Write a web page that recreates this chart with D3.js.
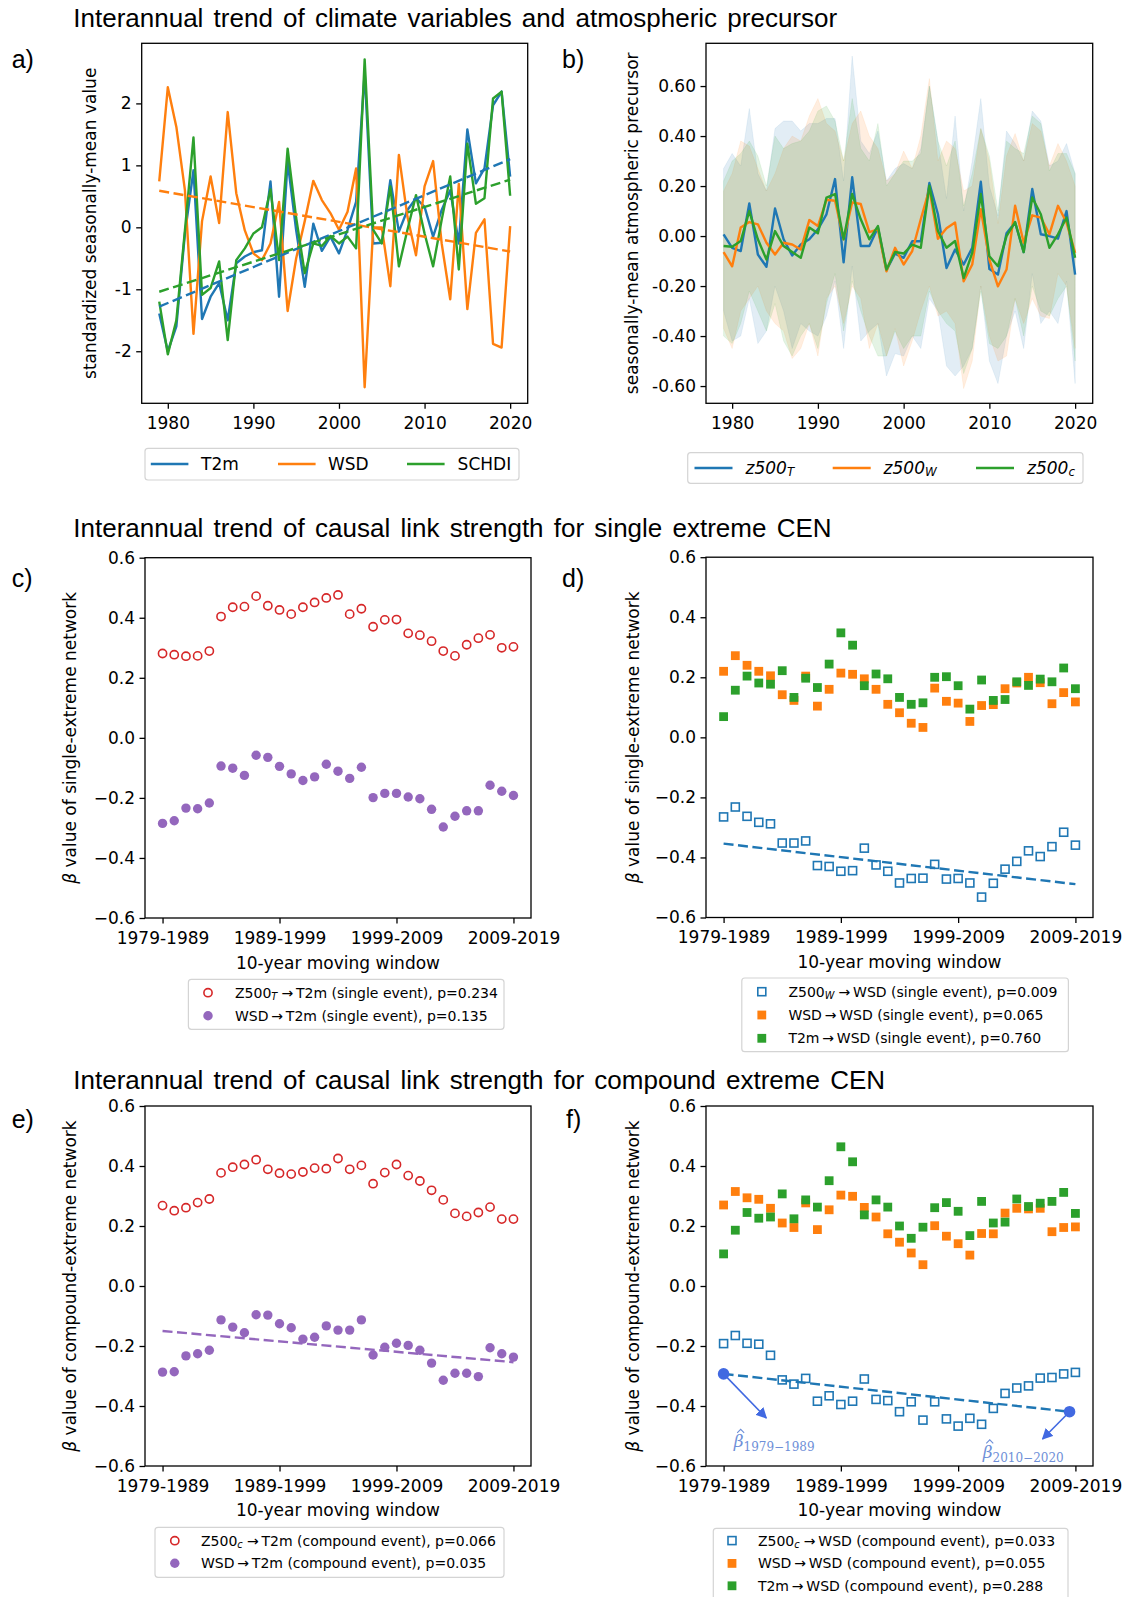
<!DOCTYPE html>
<html><head><meta charset="utf-8">
<script src="https://cdn.jsdelivr.net/npm/d3@7"></script>
<style>body{margin:0;background:#fff}svg{display:block}</style>
</head><body>
<svg id="fig" width="1127" height="1597"></svg>
<script>
// ---------------- DATA ----------------
const years = [1979,1980,1981,1982,1983,1984,1985,1986,1987,1988,1989,1990,1991,1992,1993,1994,1995,1996,1997,1998,1999,2000,2001,2002,2003,2004,2005,2006,2007,2008,2009,2010,2011,2012,2013,2014,2015,2016,2017,2018,2019,2020];
const yearTicks = [1980,1990,2000,2010,2020];

// panel a
const t2m   = [-1.39,-2.0,-1.6,-0.1,0.92,-1.48,-1.12,-0.9,-1.5,-0.58,-0.47,-0.4,-0.37,0.74,-1.12,1.06,-0.05,-0.96,0.06,-0.38,-0.15,-0.42,-0.04,0.41,2.5,-0.26,-0.25,0.76,-0.07,0.28,0.47,0.33,-0.15,0.28,0.6,-0.26,1.58,0.71,0.95,1.97,2.19,0.82];
const wsd   = [0.74,2.26,1.62,0.6,-1.72,0.1,0.82,0.07,1.86,0.55,-0.05,-0.42,-0.53,-0.26,0.41,-1.35,-0.5,0.1,0.75,0.44,0.23,-0.04,0.25,0.95,-2.58,0.0,0.0,-0.95,1.17,0.17,-0.45,0.66,1.07,-0.26,-1.16,0.7,-1.32,-0.09,0.13,-1.88,-1.94,0.02];
const schdi = [-1.2,-2.05,-1.5,-0.05,1.45,-1.09,-0.98,-0.55,-1.82,-0.53,-0.34,-0.1,0.0,0.61,-0.53,1.27,0.15,-0.74,-0.26,-0.3,-0.14,-0.26,-0.15,-0.34,2.71,-0.04,-0.26,0.66,-0.63,-0.04,0.52,-0.1,-0.63,0.12,0.82,-0.68,1.35,0.38,0.47,2.08,2.19,0.51];
const trendYears = [1979, 2020];
const t2mTrend   = [-1.28, 1.10];
const wsdTrend   = [0.59, -0.39];
const schdiTrend = [-1.04, 0.77];
const aTicks = [-2,-1,0,1,2];

// panel b
const z500T = [0.007,-0.047,-0.06,0.13,-0.074,-0.123,0.11,-0.013,-0.078,-0.034,-0.013,0.027,0.087,0.228,-0.105,0.235,-0.04,-0.04,0.034,-0.137,-0.07,-0.087,-0.021,-0.021,0.212,0.087,-0.128,-0.054,-0.114,-0.047,0.217,-0.132,-0.154,0.011,0.054,-0.064,0.188,0.007,0.0,-0.01,0.1,-0.154];
const z500W = [-0.064,-0.121,0.034,0.056,0.047,-0.027,-0.074,-0.027,-0.034,-0.054,0.064,0.04,0.145,0.141,-0.013,0.134,0.128,0.016,0.027,-0.141,-0.047,-0.114,-0.06,0.067,0.188,-0.011,0.031,0.054,-0.181,-0.114,0.107,-0.094,-0.201,-0.134,0.121,-0.027,0.083,0.074,0.007,0.121,0.054,-0.067];
const z500C = [-0.04,-0.043,-0.02,0.1,-0.013,-0.094,0.02,-0.04,-0.064,-0.087,0.034,0.011,0.154,0.168,-0.013,0.168,0.067,-0.013,0.04,-0.134,-0.064,-0.07,-0.034,-0.047,0.201,0.02,-0.047,-0.02,-0.168,-0.067,0.168,-0.081,-0.121,0.0,0.056,-0.064,0.154,0.087,-0.047,0.007,0.074,-0.087];
const z500TUpper = [0.27,0.33,0.28,0.51,0.25,0.18,0.43,0.46,0.46,0.42,0.45,0.45,0.47,0.47,0.22,0.72,0.38,0.33,0.42,0.22,0.27,0.29,0.27,0.35,0.6,0.38,0.15,0.48,0.1,0.3,0.55,0.2,0.08,0.42,0.37,0.3,0.5,0.46,0.28,0.3,0.37,0.25];
const z500TLower = [-0.3,-0.42,-0.4,-0.25,-0.43,-0.38,-0.2,-0.3,-0.45,-0.35,-0.38,-0.4,-0.32,-0.18,-0.45,-0.12,-0.42,-0.38,-0.35,-0.56,-0.47,-0.48,-0.4,-0.45,-0.25,-0.3,-0.52,-0.56,-0.52,-0.45,-0.2,-0.5,-0.59,-0.4,-0.3,-0.45,-0.15,-0.35,-0.3,-0.35,-0.18,-0.59];
const z500WUpper = [0.18,0.25,0.38,0.36,0.27,0.18,0.25,0.35,0.4,0.38,0.48,0.55,0.45,0.42,0.3,0.45,0.5,0.4,0.35,0.22,0.25,0.34,0.27,0.4,0.63,0.3,0.38,0.35,0.18,0.2,0.43,0.3,0.05,0.32,0.41,0.3,0.45,0.42,0.28,0.37,0.3,0.2];
const z500WLower = [-0.37,-0.45,-0.3,-0.25,-0.2,-0.3,-0.35,-0.38,-0.49,-0.45,-0.35,-0.48,-0.25,-0.2,-0.35,-0.2,-0.25,-0.45,-0.35,-0.48,-0.37,-0.52,-0.42,-0.3,-0.2,-0.32,-0.3,-0.35,-0.61,-0.5,-0.2,-0.4,-0.5,-0.48,-0.25,-0.35,-0.25,-0.32,-0.33,-0.15,-0.2,-0.45];
const z500CUpper = [0.22,0.3,0.33,0.38,0.32,0.2,0.4,0.35,0.37,0.38,0.42,0.5,0.52,0.46,0.3,0.55,0.35,0.3,0.45,0.2,0.25,0.3,0.3,0.33,0.6,0.38,0.28,0.38,0.12,0.25,0.43,0.32,0.1,0.38,0.35,0.33,0.48,0.45,0.26,0.33,0.33,0.25];
const z500CLower = [-0.4,-0.43,-0.35,-0.22,-0.3,-0.38,-0.27,-0.42,-0.48,-0.4,-0.35,-0.45,-0.27,-0.15,-0.38,-0.18,-0.3,-0.4,-0.48,-0.48,-0.38,-0.45,-0.4,-0.4,-0.22,-0.3,-0.35,-0.38,-0.55,-0.45,-0.22,-0.43,-0.45,-0.4,-0.25,-0.4,-0.2,-0.3,-0.32,-0.25,-0.2,-0.5];
const bTicks = [-0.6,-0.4,-0.2,0.0,0.2,0.4,0.6];

// panels c-f : 10-year moving windows
const windows = ["1979-1989","1980-1990","1981-1991","1982-1992","1983-1993","1984-1994","1985-1995","1986-1996","1987-1997","1988-1998","1989-1999","1990-2000","1991-2001","1992-2002","1993-2003","1994-2004","1995-2005","1996-2006","1997-2007","1998-2008","1999-2009","2000-2010","2001-2011","2002-2012","2003-2013","2004-2014","2005-2015","2006-2016","2007-2017","2008-2018","2009-2019"];
const windowTicks = ["1979-1989","1989-1999","1999-2009","2009-2019"];
const betaTicks = [-0.6,-0.4,-0.2,0.0,0.2,0.4,0.6];

// c) single extreme, target T2m
const cZ500T = [0.281,0.277,0.272,0.273,0.289,0.404,0.435,0.437,0.472,0.440,0.426,0.412,0.435,0.451,0.466,0.476,0.412,0.430,0.370,0.393,0.394,0.348,0.342,0.322,0.289,0.273,0.310,0.332,0.343,0.300,0.303];
const cWSD   = [-0.285,-0.276,-0.234,-0.236,-0.217,-0.094,-0.101,-0.125,-0.058,-0.065,-0.095,-0.120,-0.142,-0.130,-0.088,-0.111,-0.135,-0.098,-0.199,-0.185,-0.185,-0.197,-0.203,-0.238,-0.297,-0.261,-0.243,-0.243,-0.158,-0.178,-0.192];

// d) single extreme, target WSD
const dZ500W = [-0.265,-0.232,-0.263,-0.283,-0.288,-0.352,-0.352,-0.345,-0.427,-0.430,-0.446,-0.444,-0.369,-0.425,-0.446,-0.485,-0.470,-0.469,-0.423,-0.472,-0.470,-0.485,-0.532,-0.486,-0.439,-0.413,-0.378,-0.397,-0.364,-0.316,-0.359];
const dWSD   = [0.220,0.272,0.240,0.220,0.205,0.142,0.123,0.204,0.104,0.160,0.214,0.210,0.195,0.160,0.110,0.082,0.047,0.033,0.164,0.120,0.114,0.053,0.106,0.109,0.162,0.181,0.200,0.182,0.112,0.149,0.118];
const dT2m   = [0.069,0.157,0.204,0.181,0.177,0.222,0.133,0.197,0.166,0.244,0.348,0.307,0.172,0.211,0.195,0.133,0.110,0.115,0.200,0.202,0.172,0.094,0.191,0.123,0.126,0.185,0.173,0.194,0.185,0.231,0.162];
const dTrend = [-0.354, -0.489];

// e) compound extreme, target T2m
const eZ500C = [0.268,0.251,0.261,0.278,0.290,0.377,0.396,0.405,0.421,0.389,0.376,0.373,0.380,0.393,0.391,0.425,0.389,0.402,0.341,0.378,0.405,0.368,0.350,0.319,0.287,0.242,0.232,0.245,0.263,0.223,0.223];
const eWSD   = [-0.287,-0.286,-0.233,-0.226,-0.214,-0.113,-0.137,-0.156,-0.096,-0.097,-0.126,-0.139,-0.177,-0.171,-0.133,-0.147,-0.147,-0.113,-0.230,-0.204,-0.191,-0.198,-0.214,-0.257,-0.314,-0.291,-0.291,-0.302,-0.206,-0.226,-0.237];
const eTrend = [-0.150, -0.254];

// f) compound extreme, target WSD
const fZ500C = [-0.192,-0.165,-0.191,-0.194,-0.231,-0.313,-0.327,-0.308,-0.384,-0.366,-0.395,-0.384,-0.310,-0.378,-0.382,-0.419,-0.386,-0.447,-0.386,-0.443,-0.467,-0.441,-0.461,-0.408,-0.358,-0.340,-0.333,-0.307,-0.305,-0.293,-0.288];
const fWSD   = [0.270,0.315,0.294,0.289,0.259,0.210,0.195,0.277,0.188,0.254,0.303,0.299,0.262,0.230,0.174,0.146,0.110,0.071,0.201,0.166,0.141,0.103,0.175,0.174,0.243,0.259,0.257,0.259,0.181,0.195,0.197];
const fT2m   = [0.107,0.186,0.245,0.226,0.230,0.307,0.224,0.287,0.263,0.351,0.464,0.414,0.237,0.287,0.263,0.200,0.159,0.196,0.261,0.278,0.249,0.168,0.282,0.210,0.213,0.290,0.265,0.276,0.282,0.312,0.242];
const fTrendIdx = [0, 29.5];
const fTrend = [-0.293, -0.419];
// annotation (index, value): arrow tips and label anchors
const fArrowTips = [[3.64,-0.440],[27.2,-0.510]];
const fLabelPos  = [[0.86,-0.538],[22.1,-0.573]];
const fLabelSub  = ["1979\u22121989","2010\u22122020"];

// ---------------- DRAWING ----------------
const C = {blue:"#1f77b4", orange:"#ff7f0e", green:"#2ca02c", red:"#d62728", purple:"#9467bd", annot:"#4169e1", annotText:"#6e8fd8"};
const svg = d3.select("#fig");
const TF = "DejaVu Sans";
const HF = "Liberation Sans";

function title(txt, y){
  svg.append("text").attr("x",73.3).attr("y",y).attr("font-family",HF).attr("font-size",26)
    .attr("word-spacing",3).attr("fill","#000").text(txt);
}
function plabel(txt,x,y){
  svg.append("text").attr("x",x).attr("y",y).attr("font-family",HF).attr("font-size",25).attr("fill","#000").text(txt);
}
function axes(P, x, y, xt, xfmt, yt, yfmt){
  const g = svg.append("g");
  const ax = g.append("g").attr("transform",`translate(0,${P.y1})`)
    .call(d3.axisBottom(x).tickValues(xt).tickFormat(xfmt).tickSize(5.5).tickPadding(8));
  const ay = g.append("g").attr("transform",`translate(${P.x0},0)`)
    .call(d3.axisLeft(y).tickValues(yt).tickFormat(yfmt).tickSize(5.5).tickPadding(4.5));
  [ax,ay].forEach(a=>{
    a.select(".domain").remove();
    a.selectAll("line").attr("stroke","#000").attr("stroke-width",1.3);
    a.selectAll("text").attr("font-family",TF).attr("font-size",17).attr("fill","#000");
  });
  g.append("rect").attr("x",P.x0).attr("y",P.y0).attr("width",P.x1-P.x0).attr("height",P.y1-P.y0)
    .attr("fill","none").attr("stroke","#000").attr("stroke-width",1.3);
}
function ylabel(parts, x, P){
  const t = svg.append("text").attr("transform",`translate(${x},${(P.y0+P.y1)/2}) rotate(-90)`)
    .attr("text-anchor","middle").attr("dominant-baseline","central")
    .attr("font-family",TF).attr("font-size",17).attr("fill","#000");
  parts.forEach(p=>{ const s=t.append("tspan").text(p.t); if(p.it) s.attr("font-style","italic"); });
}
function xlabel(txt, P, y){
  svg.append("text").attr("x",(P.x0+P.x1)/2).attr("y",y).attr("text-anchor","middle").attr("dominant-baseline","central")
    .attr("font-family",TF).attr("font-size",17).attr("fill","#000").text(txt);
}
function legendBox(x0,y0,x1,y1){
  svg.append("rect").attr("x",x0).attr("y",y0).attr("width",x1-x0).attr("height",y1-y0).attr("rx",3)
    .attr("fill","#fff").attr("fill-opacity",0.8).attr("stroke","#d4d4d4").attr("stroke-width",1.2);
}
function richText(x,y,parts,size,italicAll){
  const t = svg.append("text").attr("x",x).attr("y",y).attr("dominant-baseline","central")
    .attr("font-family",TF).attr("font-size",size).attr("fill","#000");
  if(italicAll) t.attr("font-style","italic");
  parts.forEach(p=>{
    if(p.sub){
      t.append("tspan").attr("dy",size*0.25).attr("font-size",size*0.7).attr("font-style","italic").text(p.t);
      t.append("tspan").attr("dy",-size*0.25).text("\u200a");
    } else t.append("tspan").text(p.t);
  });
  return t;
}
function marker(g, kind, cx, cy, color){
  if(kind==="ocirc") g.append("circle").attr("cx",cx).attr("cy",cy).attr("r",4.1).attr("fill","none").attr("stroke",color).attr("stroke-width",1.6);
  else if(kind==="circ") g.append("circle").attr("cx",cx).attr("cy",cy).attr("r",4.7).attr("fill",color);
  else if(kind==="osq") g.append("rect").attr("x",cx-4).attr("y",cy-4).attr("width",8).attr("height",8).attr("fill","none").attr("stroke",color).attr("stroke-width",1.6);
  else if(kind==="sq") g.append("rect").attr("x",cx-4.4).attr("y",cy-4.4).attr("width",8.8).attr("height",8.8).attr("fill",color);
}

// ---- Titles & panel labels
title("Interannual trend of climate variables and atmospheric precursor", 26.7);
title("Interannual trend of causal link strength for single extreme CEN", 536.7);
title("Interannual trend of causal link strength for compound extreme CEN", 1089);
plabel("a)", 11.7, 68); plabel("b)", 562, 68);
plabel("c)", 11.7, 586.6); plabel("d)", 562, 586.6);
plabel("e)", 11.7, 1128); plabel("f)", 566, 1128);

// ---- Panel a
(function(){
  const P = {x0:141.7,x1:527.7,y0:43.3,y1:403.3};
  const x = d3.scaleLinear().domain([1976.95,2022.05]).range([P.x0,P.x1]);
  const y = d3.scaleLinear().domain([-2.84,2.97]).range([P.y1,P.y0]);
  const line = d3.line().x((d,i)=>x(years[i])).y(d=>y(d));
  const tl = d3.line().x((d,i)=>x(trendYears[i])).y(d=>y(d));
  const g = svg.append("g");
  [[t2m,C.blue],[wsd,C.orange],[schdi,C.green]].forEach(([s,c])=>{
    g.append("path").attr("d",line(s)).attr("fill","none").attr("stroke",c).attr("stroke-width",2.4).attr("stroke-linejoin","round");
  });
  [[wsdTrend,C.orange],[t2mTrend,C.blue],[schdiTrend,C.green]].forEach(([s,c])=>{
    g.append("path").attr("d",tl(s)).attr("fill","none").attr("stroke",c).attr("stroke-width",2.4).attr("stroke-dasharray","10,4.5");
  });
  axes(P,x,y,yearTicks,d3.format("d"),aTicks,d=>String(d));
  ylabel([{t:"standardized seasonally-mean value"}], 90, P);
  legendBox(145,448.3,519,480);
  const ly = 464;
  [["T2m",C.blue,150.8,201],["WSD",C.orange,278,328],["SCHDI",C.green,407,457.6]].forEach(([n,c,lx,tx])=>{
    svg.append("line").attr("x1",lx).attr("x2",lx+37.6).attr("y1",ly).attr("y2",ly).attr("stroke",c).attr("stroke-width",2.4);
    svg.append("text").attr("x",tx).attr("y",ly).attr("dominant-baseline","central").attr("font-family",TF).attr("font-size",17).text(n);
  });
})();

// ---- Panel b
(function(){
  const P = {x0:706,x1:1092.7,y0:43.3,y1:403.3};
  const x = d3.scaleLinear().domain([1976.95,2022.05]).range([P.x0,P.x1]);
  const y = d3.scaleLinear().domain([-0.669,0.771]).range([P.y1,P.y0]);
  const g = svg.append("g");
  const area = (lo,hi)=>d3.area().x((d,i)=>x(years[i])).y0((d,i)=>y(lo[i])).y1((d,i)=>y(hi[i]))(years);
  [[z500TLower,z500TUpper,C.blue],[z500WLower,z500WUpper,C.orange],[z500CLower,z500CUpper,C.green]].forEach(([lo,hi,c])=>{
    g.append("path").attr("d",area(lo,hi)).attr("fill",c).attr("fill-opacity",0.13).attr("stroke",c).attr("stroke-opacity",0.08);
  });
  const line = d3.line().x((d,i)=>x(years[i])).y(d=>y(d));
  [[z500T,C.blue],[z500W,C.orange],[z500C,C.green]].forEach(([s,c])=>{
    g.append("path").attr("d",line(s)).attr("fill","none").attr("stroke",c).attr("stroke-width",2.4).attr("stroke-linejoin","round");
  });
  axes(P,x,y,yearTicks,d3.format("d"),bTicks,d=>d3.format(".2f")(d).replace("\u2212","-"));
  ylabel([{t:"seasonally-mean atmospheric precursor"}], 631.7, P);
  legendBox(687.7,452.7,1083,483.3);
  const ly = 468;
  [["T",C.blue,694.5,745.5],["W",C.orange,832.7,883.6],["c",C.green,976,1027]].forEach(([sub,c,lx,tx])=>{
    svg.append("line").attr("x1",lx).attr("x2",lx+38).attr("y1",ly).attr("y2",ly).attr("stroke",c).attr("stroke-width",2.4);
    richText(tx,ly,[{t:"z500"},{t:sub,sub:true}],17,true);
  });
})();

// ---- Beta panels helper
const betaFmt = d=>d3.format(".1f")(d).replace("-","\u2212");
function betaPanel(P, series, trend, labelText, ylabX){
  const x = d3.scaleLinear().domain([-1.5,31.5]).range([P.x0,P.x1]);
  const y = d3.scaleLinear().domain([-0.6,0.6]).range([P.y1,P.y0]);
  const g = svg.append("g");
  if(trend){
    g.append("path").attr("d",d3.line().x(d=>x(d[0])).y(d=>y(d[1]))(trend.idx.map((ix,i)=>[ix,trend.v[i]])))
      .attr("fill","none").attr("stroke",trend.c).attr("stroke-width",2.4).attr("stroke-dasharray","10,4.5");
  }
  series.forEach(s=>{
    s.v.forEach((v,i)=>marker(g,s.kind,x(i),y(v),s.c));
  });
  axes(P,x,y,windowTicks.map(w=>windows.indexOf(w)),i=>windows[i],betaTicks,betaFmt);
  ylabel([{t:"\u03b2",it:true},{t:" value of "+labelText}], ylabX, P);
  return {x,y};
}
function betaLegend(box, mx, tx, rows, items){
  legendBox(box[0],box[1],box[2],box[3]);
  const g = svg.append("g");
  items.forEach((it,i)=>{
    marker(g,it.kind,mx,rows[i],it.c);
    richText(tx,rows[i],it.parts,14,false);
  });
}
const AR = "\u2009\u2192\u2009";

// ---- Panel c
(function(){
  const P = {x0:145,x1:531,y0:557.7,y1:918};
  betaPanel(P,[{v:cZ500T,kind:"ocirc",c:C.red},{v:cWSD,kind:"circ",c:C.purple}],null,"single-extreme network",70);
  xlabel("10-year moving window",P,963.3);
  betaLegend([188.4,979.3,504,1029.3],208,235,[992.7,1015.7],[
    {kind:"ocirc",c:C.red,parts:[{t:"Z500"},{t:"T",sub:true},{t:AR+"T2m (single event), p=0.234"}]},
    {kind:"circ",c:C.purple,parts:[{t:"WSD"+AR+"T2m (single event), p=0.135"}]}]);
})();

// ---- Panel d
(function(){
  const P = {x0:706,x1:1093,y0:557.2,y1:917.5};
  betaPanel(P,[{v:dZ500W,kind:"osq",c:C.blue},{v:dWSD,kind:"sq",c:C.orange},{v:dT2m,kind:"sq",c:C.green}],
    {idx:[0,30],v:dTrend,c:C.blue},"single-extreme network",633.3);
  xlabel("10-year moving window",P,962.3);
  betaLegend([741.8,978,1068.4,1051.7],761.8,788.4,[991.7,1015,1038.3],[
    {kind:"osq",c:C.blue,parts:[{t:"Z500"},{t:"W",sub:true},{t:AR+"WSD (single event), p=0.009"}]},
    {kind:"sq",c:C.orange,parts:[{t:"WSD"+AR+"WSD (single event), p=0.065"}]},
    {kind:"sq",c:C.green,parts:[{t:"T2m"+AR+"WSD (single event), p=0.760"}]}]);
})();

// ---- Panel e
(function(){
  const P = {x0:145,x1:531,y0:1106,y1:1466};
  betaPanel(P,[{v:eZ500C,kind:"ocirc",c:C.red},{v:eWSD,kind:"circ",c:C.purple}],
    {idx:[0,30],v:eTrend,c:C.purple},"compound-extreme network",70);
  xlabel("10-year moving window",P,1510);
  betaLegend([155,1527.3,504,1577.3],174.8,201,[1540.7,1563.3],[
    {kind:"ocirc",c:C.red,parts:[{t:"Z500"},{t:"c",sub:true},{t:AR+"T2m (compound event), p=0.066"}]},
    {kind:"circ",c:C.purple,parts:[{t:"WSD"+AR+"T2m (compound event), p=0.035"}]}]);
})();

// ---- Panel f
(function(){
  const P = {x0:706,x1:1093,y0:1106,y1:1466};
  const s = betaPanel(P,[{v:fZ500C,kind:"osq",c:C.blue},{v:fWSD,kind:"sq",c:C.orange},{v:fT2m,kind:"sq",c:C.green}],
    {idx:fTrendIdx,v:fTrend,c:C.blue},"compound-extreme network",633.3);
  const defs = svg.append("defs");
  defs.append("marker").attr("id","ah").attr("viewBox","0 0 10 10").attr("refX",9).attr("refY",5)
    .attr("markerWidth",11).attr("markerHeight",11).attr("markerUnits","userSpaceOnUse").attr("orient","auto")
    .append("path").attr("d","M0,0 L10,5 L0,10 z").attr("fill",C.annot);
  const g = svg.append("g");
  fTrendIdx.forEach((ix,i)=>{
    g.append("line").attr("x1",s.x(ix)).attr("y1",s.y(fTrend[i])).attr("x2",s.x(fArrowTips[i][0])).attr("y2",s.y(fArrowTips[i][1]))
      .attr("stroke",C.annot).attr("stroke-width",1.6).attr("marker-end","url(#ah)");
    g.append("circle").attr("cx",s.x(ix)).attr("cy",s.y(fTrend[i])).attr("r",5.8).attr("fill",C.annot);
    const lx = s.x(fLabelPos[i][0]), ly = s.y(fLabelPos[i][1]);
    const t = g.append("text").attr("x",lx).attr("y",ly)
      .attr("font-family","DejaVu Serif").attr("fill",C.annotText).attr("font-size",17);
    t.append("tspan").attr("font-style","italic").text("\u03b2");
    t.append("tspan").attr("font-size",12).attr("dy",4).text(fLabelSub[i]);
    // hat accent drawn as a small path above beta
    g.append("path").attr("d",`M${lx+3.5},${ly-14.5} L${lx+7},${ly-18} L${lx+10.5},${ly-14.5}`)
      .attr("fill","none").attr("stroke",C.annotText).attr("stroke-width",1.1);
  });
  xlabel("10-year moving window",P,1510);
  betaLegend([713.3,1528.3,1068,1602],732,757.9,[1540.6,1563.4,1585.8],[
    {kind:"osq",c:C.blue,parts:[{t:"Z500"},{t:"c",sub:true},{t:AR+"WSD (compound event), p=0.033"}]},
    {kind:"sq",c:C.orange,parts:[{t:"WSD"+AR+"WSD (compound event), p=0.055"}]},
    {kind:"sq",c:C.green,parts:[{t:"T2m"+AR+"WSD (compound event), p=0.288"}]}]);
})();
</script>
</body></html>
